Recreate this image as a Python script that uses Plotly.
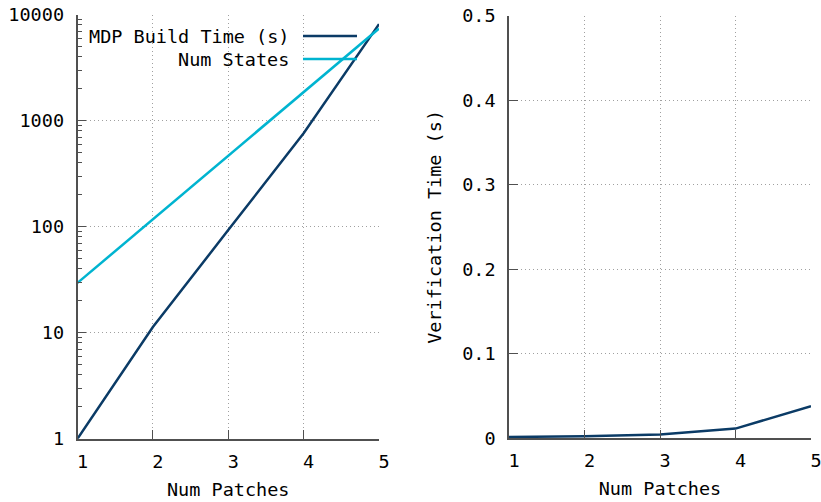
import plotly.graph_objects as go

num_patches = [1, 2, 3, 4, 5]
mdp_build_time = [1.0, 11.3, 93, 760, 8150]
num_states = [29.5, 118, 470, 1880, 7400]
verification_time = [0.0015, 0.0024, 0.0044, 0.0115, 0.038]

series_names = ["MDP Build Time (s)", "Num States"]
colors = ["#0b3b66", "#00b4d0"]

W, H = 821, 502
FONT = dict(family="DejaVu Sans Mono", size=18.5, color="#000000")
AX = "#505050"
GRID = "#a0a0a0"

minor_log = [m * 10 ** d for d in range(4) for m in range(2, 10)]

fig = go.Figure()
fig.add_trace(go.Scatter(x=num_patches, y=mdp_build_time, mode="lines", name=series_names[0],
                         line=dict(color=colors[0], width=2.5), xaxis="x", yaxis="y", showlegend=False))
fig.add_trace(go.Scatter(x=num_patches, y=num_states, mode="lines", name=series_names[1],
                         line=dict(color=colors[1], width=2.5), xaxis="x", yaxis="y", showlegend=False))
fig.add_trace(go.Scatter(x=num_patches, y=verification_time, mode="lines", name="Verification Time (s)",
                         line=dict(color=colors[0], width=2.5), xaxis="x2", yaxis="y2", showlegend=False))

def px(x):
    return x / W

def py(y):
    return 1 - y / H

common_x = dict(range=[1, 5], tickvals=[1, 2, 3, 4, 5], ticks="inside", ticklen=9, tickwidth=1,
                tickcolor=AX, showline=True, linecolor=AX, linewidth=1.5,
                showgrid=True, gridcolor=GRID, griddash="1px,3px", gridwidth=1,
                zeroline=False, tickfont=FONT, automargin=False, ticklabelstandoff=5,
                ticklabelshift=5, ticklabeloverflow="allow",
                title=dict(text="Num Patches", font=FONT, standoff=12))

common_y = dict(ticks="inside", ticklen=9, tickcolor=AX, showline=True, linecolor=AX,
                linewidth=1.5, showgrid=True, gridcolor=GRID, griddash="1px,3px", gridwidth=1,
                zeroline=False, tickfont=FONT, automargin=False, ticklabelstandoff=8)

fig.update_layout(
    width=W, height=H,
    margin=dict(l=0, r=0, t=0, b=0),
    paper_bgcolor="white", plot_bgcolor="white",
    font=FONT,
    xaxis=dict(domain=[px(77.5), px(379)], anchor="y", **common_x),
    xaxis2=dict(domain=[px(509), px(811)], anchor="y2", **common_x),
    yaxis=dict(domain=[py(438.7), py(14.7)], anchor="x", type="log", range=[0, 4],
               tickvals=[1, 10, 100, 1000, 10000], ticktext=["1", "10", "100", "1000", "10000"],
               minor=dict(ticks="inside", ticklen=5, tickcolor=AX, showgrid=False, tickvals=minor_log),
               **common_y),
    yaxis2=dict(domain=[py(438.3), py(15.5)], anchor="x2", range=[0, 0.5],
                tickvals=[0, 0.1, 0.2, 0.3, 0.4, 0.5], ticktext=["0", "0.1", "0.2", "0.3", "0.4", "0.5"],
                title=dict(text="Verification Time (s)", font=FONT, standoff=16),
                **common_y),
)

# gnuplot-style legend: text right-aligned, line sample on the right
legend_rows = [36, 59]
for name, color, yrow in zip(series_names, colors, legend_rows):
    fig.add_annotation(text=name, xref="paper", yref="paper", x=px(291), y=py(yrow),
                       xanchor="right", yanchor="middle", showarrow=False, font=FONT)
    fig.add_shape(type="line", xref="paper", yref="paper", x0=px(303), x1=px(357),
                  y0=py(yrow), y1=py(yrow), line=dict(color=color, width=2.5))

fig.write_html("out.html", config={"displayModeBar": False},
               post_script="document.body.style.margin='0';document.body.style.overflow='hidden';")
